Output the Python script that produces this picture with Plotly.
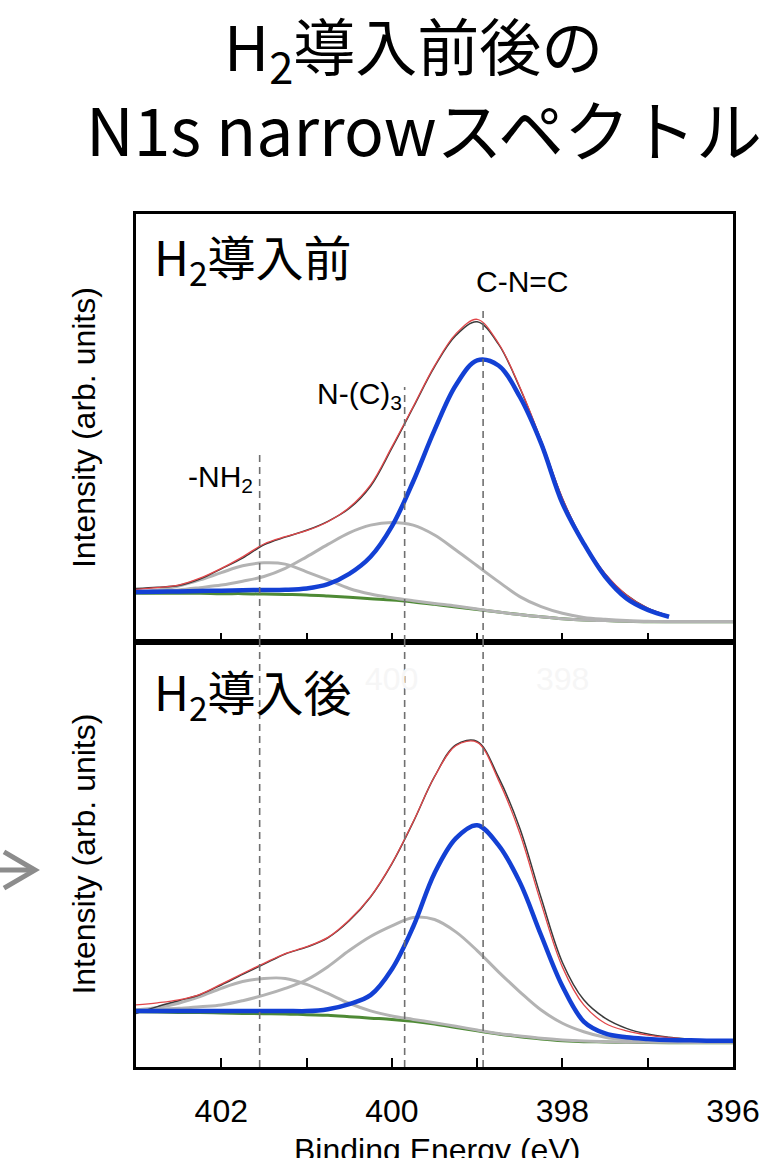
import plotly.graph_objects as go

# ---- binding-energy grid (eV), high -> low ----
energy = [403.00, 402.75, 402.50, 402.25, 402.00, 401.75, 401.50, 401.25,
          401.00, 400.75, 400.50, 400.25, 400.00, 399.75, 399.50, 399.25,
          399.00, 398.75, 398.50, 398.25, 398.00, 397.75, 397.50, 397.25,
          397.00, 396.75, 396.50, 396.25, 396.00]
energy_fit_before = energy[:26]
energy_fit_after = energy[:27] + [396.40]

# ---- before H2 (upper panel) ----
bg_before = [11.4, 11.4, 11.4, 11.4, 11.3, 11.3, 11.2, 11.1, 11.0, 10.75,
             10.45, 10.1, 9.8, 9.35, 8.8, 8.2, 7.6, 7.0, 6.4, 5.9, 5.45,
             5.15, 5.0, 4.85, 4.75, 4.75, 4.75, 4.75, 4.75]
nh2_before = [11.7, 12.15, 13.1, 14.5, 16.2, 17.8, 18.5, 18.2, 16.4, 14.5,
              12.5, 11.2, 10.35, 9.65, 9.0, 8.4, 7.7, 7.0, 6.4, 5.9, 5.45,
              5.14, 5.0, 4.85, 4.8, 4.8, 4.8, 4.8, 4.8]
nc3_before = [11.5, 11.75, 12.15, 12.7, 13.3, 14.2, 15.3, 17.2, 19.9, 22.8,
              25.5, 27.3, 27.9, 27.3, 25.0, 21.5, 17.8, 14.1, 10.6, 8.25,
              6.7, 5.75, 5.3, 5.0, 4.85, 4.75, 4.75, 4.75, 4.75]
cnc_before = [11.7, 11.75, 11.8, 11.9, 12.0, 12.1, 12.15, 12.2, 12.5, 13.5,
              15.9, 19.9, 27.0, 37.5, 49.5, 60.0, 65.8, 64.6, 57.3, 46.4,
              32.4, 23.0, 15.3, 10.2, 7.5, 5.9]
fit_before = [12.3, 12.7, 13.3, 14.9, 17.2, 19.9, 22.9, 24.6, 26.0, 28.1,
              31.4, 36.7, 45.6, 55.0, 64.5, 72.0, 75.4, 69.8, 59.6, 47.2,
              33.6, 23.4, 16.0, 11.0, 7.9, 6.1]
raw_before = [12.5, 12.8, 13.2, 14.7, 17.1, 19.6, 22.7, 24.5, 26.1, 28.2,
              31.2, 36.4, 45.3, 54.8, 64.3, 71.6, 74.8, 69.6, 59.4, 47.0,
              33.5, 23.3, 15.9, 11.0, 7.9, 6.1]

# ---- after H2 (lower panel) ----
bg_after = [13.0, 12.95, 12.85, 12.8, 12.7, 12.6, 12.55, 12.5, 12.3, 12.15,
            11.84, 11.5, 11.2, 10.75, 10.1, 9.3, 8.5, 7.76, 7.1, 6.6, 6.2,
            5.96, 5.9, 5.8, 5.75, 5.72, 5.72, 5.72, 5.72]
nh2_after = [13.4, 14.0, 15.0, 16.55, 18.5, 20.1, 20.85, 20.85, 19.45, 17.3,
             15.0, 13.2, 12.0, 11.2, 10.4, 9.6, 8.7, 7.9, 7.3, 6.74, 6.35,
             6.1, 5.96, 5.85, 5.8, 5.8, 5.8, 5.8, 5.8]
nc3_after = [13.4, 13.6, 13.8, 14.2, 14.6, 15.6, 16.9, 18.5, 20.5, 23.6,
             27.4, 30.7, 33.2, 35.2, 34.7, 31.8, 27.4, 22.4, 17.7, 13.4,
             10.3, 8.3, 7.0, 6.35, 6.0, 5.9, 5.8, 5.8, 5.8]
cnc_after = [13.2, 13.2, 13.2, 13.2, 13.2, 13.2, 13.2, 13.2, 13.15, 13.6,
             14.8, 16.9, 23.0, 33.0, 45.6, 53.8, 56.9, 52.2, 43.5, 31.0,
             19.0, 10.7, 7.9, 7.0, 6.6, 6.35, 6.3, 6.2, 6.2]
fit_after = [14.6, 15.1, 15.8, 17.1, 19.5, 22.0, 24.4, 26.7, 28.3, 30.5,
             34.6, 40.1, 47.9, 57.7, 68.3, 75.6, 76.4, 67.5, 55.0, 38.5,
             23.5, 14.6, 10.3, 8.5, 7.5, 6.9, 6.5, 6.35]
raw_after = [12.6, 14.2, 15.6, 17.0, 19.3, 21.8, 24.2, 26.6, 28.2, 30.4,
             34.4, 40.0, 47.8, 57.6, 68.3, 75.8, 76.6, 68.2, 56.2, 39.8,
             24.6, 15.8, 11.5, 9.1, 7.75, 7.0, 6.5, 6.3]

# ---- peak assignments ----
peak_centers = [401.55, 399.85, 398.93]
peak_names = ["-NH<sub>2</sub>", "N-(C)<sub>3</sub>", "C-N=C"]

tick_vals = [403, 402, 401, 400, 399, 398, 397, 396]
tick_text = ["", "402", "", "400", "", "398", "", "396"]

BLUE = "#1340d4"
GRAY = "#b3b3b3"
GREEN = "#4e8a35"
RED = "#e2474a"
BLACK = "#3a3a3a"
DASH = "#707070"
LATIN = "Liberation Sans, Arial, sans-serif"
CJK = "Noto Sans CJK JP, sans-serif"

fig = go.Figure()

panels = [
    ("x", "y", energy_fit_before, bg_before, nh2_before, nc3_before,
     raw_before, fit_before, cnc_before),
    ("x2", "y2", energy_fit_after, bg_after, nh2_after, nc3_after,
     raw_after, fit_after, cnc_after),
]

for xa, ya, efit, bg, nh2, nc3, raw, fit, cnc in panels:
    def add(xs, ys, color, width):
        fig.add_trace(go.Scatter(
            x=xs, y=ys, xaxis=xa, yaxis=ya, mode="lines",
            line=dict(color=color, width=width, shape="spline", smoothing=1.0),
            showlegend=False, hoverinfo="skip"))
    add(energy, bg, GREEN, 3)
    add(energy, nh2, GRAY, 3)
    add(energy, nc3, GRAY, 3)
    add(efit, raw, BLACK, 1.5)
    add(efit, fit, RED, 1.3)
    add(energy[:len(cnc)], cnc, BLUE, 4.5)

axis_common = dict(
    range=[403, 396], tickvals=tick_vals, ticks="inside", ticklen=9,
    tickwidth=2, tickcolor="black", showline=True, linewidth=3,
    linecolor="black", mirror=True, showgrid=False, zeroline=False,
)
yaxis_common = dict(
    range=[0, 100], showline=True, linewidth=3, linecolor="black",
    mirror=True, showgrid=False, zeroline=False, ticks="",
    showticklabels=False,
)

split = (1067 - 642) / 853

fig.update_layout(
    width=771, height=1158, autosize=False,
    margin=dict(l=136, r=38, t=214, b=91, pad=0),
    paper_bgcolor="white", plot_bgcolor="white",
    xaxis=dict(anchor="y", showticklabels=False, **axis_common),
    yaxis=dict(anchor="x", domain=[split, 1], **yaxis_common),
    xaxis2=dict(anchor="y2", showticklabels=True, ticktext=tick_text,
                tickfont=dict(family=LATIN, size=32, color="black"),
                ticklabelstandoff=14, **axis_common),
    yaxis2=dict(anchor="x2", domain=[0, split], **yaxis_common),
)

# dashed guides at the peak positions
guide_tops = [44.4, 59.6, 78.3]
shapes = []
for c, top in zip(peak_centers, guide_tops):
    shapes.append(dict(type="line", xref="x", yref="y", x0=c, x1=c, y0=0,
                       y1=top, line=dict(color=DASH, width=1.6,
                                         dash="7px,5px")))
    shapes.append(dict(type="line", xref="x2", yref="y2", x0=c, x1=c, y0=0,
                       y1=100, line=dict(color=DASH, width=1.6,
                                         dash="7px,5px")))

# grey arrow entering from the left edge
shapes.append(dict(type="path", xref="paper", yref="paper",
                   path="M -0.2278 0.2309 L -0.1742 0.2309",
                   line=dict(color="#8c8c8c", width=5)))
shapes.append(dict(type="path", xref="paper", yref="paper",
                   path="M -0.2211 0.2521 L -0.1692 0.2309 L -0.2211 0.2098",
                   line=dict(color="#8c8c8c", width=5)))
fig.update_layout(shapes=shapes)

ann = []
# faint tick numbers showing through the lower panel
for v, t in [(400, "400"), (398, "398")]:
    ann.append(dict(x=v, y=91.3, xref="x2", yref="y2", text=t,
                    showarrow=False, font=dict(family=LATIN, size=32,
                                               color="#f6f6f6")))

# peak labels
label_pos = [(401.6, 38.1, "right"), (399.86, 57.7, "right"),
             (399.04, 84.3, "left")]
for (lx, ly, anc), name in zip(label_pos, peak_names):
    ann.append(dict(x=lx, y=ly, xref="x", yref="y", text=name,
                    xanchor=anc, yanchor="middle", showarrow=False,
                    font=dict(family=LATIN, size=30, color="black")))

# panel captions
ann.append(dict(x=0.027, y=0.9956, xref="paper", yref="paper",
                text="H<sub>2</sub>導入前", xanchor="left", yanchor="top",
                showarrow=False, font=dict(family=CJK, size=48, color="black")))
ann.append(dict(x=0.027, y=0.4853, xref="paper", yref="paper",
                text="H<sub>2</sub>導入後", xanchor="left", yanchor="top",
                showarrow=False, font=dict(family=CJK, size=48, color="black")))

# axis titles
for yc in [0.749, 0.249]:
    ann.append(dict(x=-0.0871, y=yc, xref="paper", yref="paper",
                    text="Intensity (arb. units)", textangle=-90,
                    xanchor="center", yanchor="middle", showarrow=False,
                    font=dict(family=LATIN, size=32, color="black")))
ann.append(dict(x=0.504, y=-0.0739, xref="paper", yref="paper",
                text="Binding Energy (eV)", xanchor="center", yanchor="top",
                showarrow=False, font=dict(family=LATIN, size=32,
                                           color="black")))

# heading, one annotation per line
ann.append(dict(x=0.464, y=1.2544, xref="paper", yref="paper",
                text="H<sub>2</sub>導入前後の",
                xanchor="center", yanchor="top", showarrow=False,
                font=dict(family=CJK, size=62, color="black")))
ann.append(dict(x=0.4824, y=1.1606, xref="paper", yref="paper",
                text="N1s narrowスペクトル",
                xanchor="center", yanchor="top", showarrow=False,
                font=dict(family=CJK, size=66, color="black")))
fig.update_layout(annotations=ann)

fig.write_html("out.html")
